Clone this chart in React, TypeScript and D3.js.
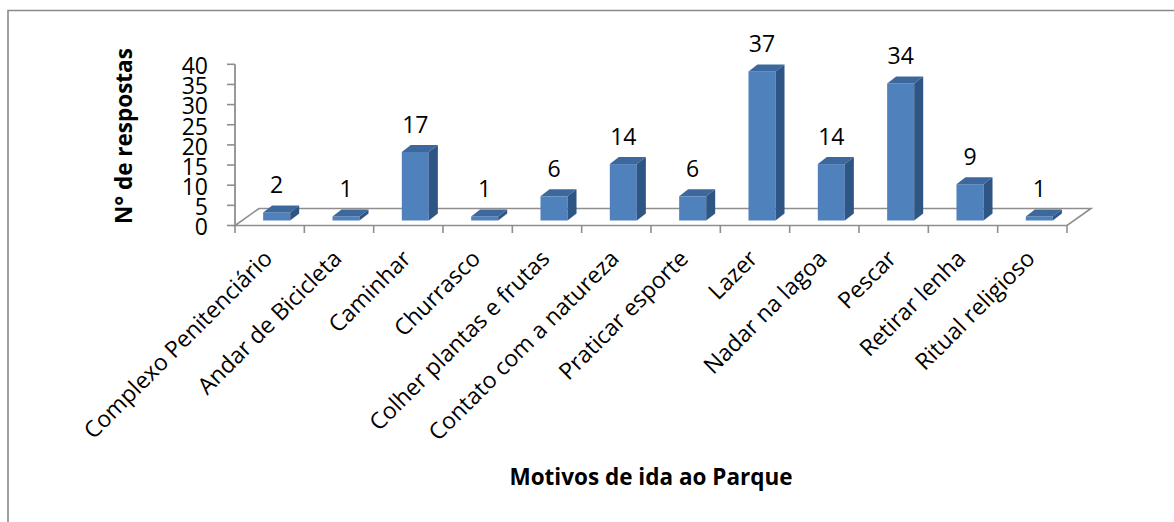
import React from "react";
import * as d3 from "d3";

const categories: string[] = [
  "Complexo Penitenciário",
  "Andar de Bicicleta",
  "Caminhar",
  "Churrasco",
  "Colher plantas e frutas",
  "Contato com a natureza",
  "Praticar esporte",
  "Lazer",
  "Nadar na lagoa",
  "Pescar",
  "Retirar lenha",
  "Ritual religioso",
];
const values: number[] = [2, 1, 17, 1, 6, 14, 6, 37, 14, 34, 9, 1];
const yTicks: number[] = [0, 5, 10, 15, 20, 25, 30, 35, 40];
const xTitle = "Motivos de ida ao Parque";
const yTitle = "N° de respostas";

const W = 1174;
const H = 522;
const FONT = "'Open Sans', sans-serif";

export default function App() {
  const x0 = 235;
  const x1 = 1067;
  const yBase = 225.5;
  const yTop = 64.3;
  const x = d3.scaleBand<string>().domain(categories).range([x0, x1]);
  const y = d3.scaleLinear().domain([0, 40]).range([yBase, yTop]);
  const step = x.step();
  const bw = step * 0.39;
  // floor depth
  const FDX = 24, FDY = -17;
  // bar plane offset
  const PDX = 7, PDY = -5;
  // bar depth
  const BDX = 9, BDY = -7;
  const front = "#4F81BD";
  const topC = "#3D689E";
  const sideC = "#2F5585";
  const axisC = "#8E8E8E";

  const floor = [
    [x0, yBase],
    [x1, yBase],
    [x1 + FDX, yBase + FDY],
    [x0 + FDX, yBase + FDY],
  ];

  return (
    <svg
      width={W}
      height={H}
      style={{ position: "absolute", left: 0, top: 0, background: "#fff" }}
      fontFamily={FONT}
    >
      <rect x={0} y={0} width={W} height={H} fill="#fff" />
      {/* outer frame (only left & top visible) */}
      <path d={`M8,${H + 5} L8,10.5 L${W + 5},10.5`} fill="none" stroke="#8A8A8A" strokeWidth={1.6} />

      {/* floor */}
      <polygon points={floor.map((p) => p.join(",")).join(" ")} fill="none" stroke={axisC} strokeWidth={1.6} />
      {/* y axis */}
      <line x1={x0} x2={x0} y1={y(0)} y2={y(40)} stroke={axisC} strokeWidth={1.8} />
      {yTicks.map((t) => (
        <g key={t}>
          <line x1={x0 - 8} x2={x0} y1={y(t)} y2={y(t)} stroke={axisC} strokeWidth={1.6} />
          <text x={208} y={y(t)} dy="0.43em" textAnchor="end" fontSize={23} fill="#000">
            {t}
          </text>
        </g>
      ))}
      {/* x ticks */}
      {d3.range(categories.length + 1).map((i) => (
        <line
          key={i}
          x1={x0 + i * step}
          x2={x0 + i * step}
          y1={yBase}
          y2={yBase + 7.5}
          stroke={axisC}
          strokeWidth={1.6}
        />
      ))}

      {/* bars */}
      {categories.map((c, i) => {
        const v = values[i];
        const bx = (x(c) as number) + (step - bw) / 2 + PDX;
        const by0 = y(0) + PDY;
        const by1 = y(v) + PDY;
        return (
          <g key={c}>
            <rect x={bx} y={by1} width={bw} height={by0 - by1} fill={front} />
            <polygon
              points={`${bx},${by1} ${bx + bw},${by1} ${bx + bw + BDX},${by1 + BDY} ${bx + BDX},${by1 + BDY}`}
              fill={topC}
            />
            <polygon
              points={`${bx + bw},${by1} ${bx + bw + BDX},${by1 + BDY} ${bx + bw + BDX},${by0 + BDY} ${bx + bw},${by0}`}
              fill={sideC}
            />
            <text x={bx + bw / 2} y={by1 - 19} textAnchor="middle" fontSize={23} fill="#000">
              {v}
            </text>
          </g>
        );
      })}

      {/* category labels */}
      {categories.map((c) => {
        const cx = (x(c) as number) + step / 2 + 4;
        const cy = 260;
        return (
          <text
            key={c}
            transform={`translate(${cx},${cy}) rotate(-45)`}
            textAnchor="end"
            fontSize={23}
            fill="#000"
          >
            {c}
          </text>
        );
      })}

      {/* axis titles */}
      <text x={651} y={485} textAnchor="middle" fontSize={22.5} fontWeight="bold" fill="#000">
        {xTitle}
      </text>
      <text
        transform="translate(132,136) rotate(-90)"
        textAnchor="middle"
        fontSize={22.5}
        fontWeight="bold"
        fill="#000"
      >
        {yTitle}
      </text>
    </svg>
  );
}
